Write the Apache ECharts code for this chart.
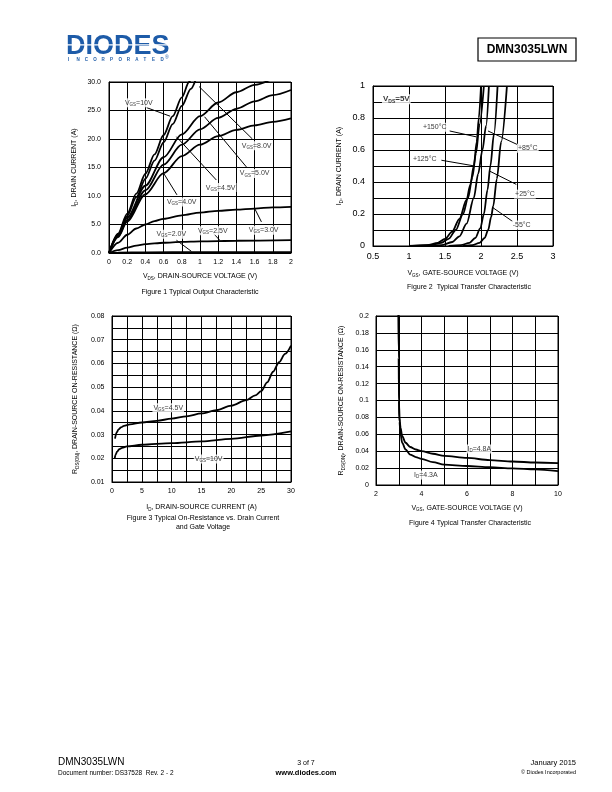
<!DOCTYPE html>
<html><head><meta charset="utf-8">
<script src="https://cdn.jsdelivr.net/npm/echarts@6/dist/echarts.min.js"></script>
<style>html,body{margin:0;padding:0;background:#fff}#c{width:612px;height:792px}</style>
</head><body><div id="c"></div>
<script>
// ---------- Figure 1: Typical Output Characteristic (VDS [V], ID [A]) ----------
const f1_vgs10 = [[0,0],[0.1,3.4],[0.2,6.9],[0.3,10.4],[0.4,13.9],[0.5,17.3],[0.6,20.7],[0.7,24.0],[0.8,27.3],[0.88,30],[0.92,31.2]];
const f1_vgs8  = [[0,0],[0.1,3.2],[0.2,6.5],[0.3,9.8],[0.4,13.0],[0.5,16.2],[0.6,19.4],[0.7,22.6],[0.8,25.8],[0.9,28.8],[0.95,30.3]];
const f1_vgs5  = [[0,0],[0.1,3.1],[0.2,6.2],[0.4,11.8],[0.6,16.8],[0.8,20.8],[1.0,24.0],[1.2,26.4],[1.4,28.2],[1.6,29.5],[1.8,30.6]];
const f1_vgs45 = [[0,0],[0.1,2.9],[0.2,5.8],[0.4,11.0],[0.6,15.5],[0.8,19.0],[1.0,21.7],[1.2,23.7],[1.4,25.3],[1.6,26.6],[1.8,27.7],[2.0,28.6]];
const f1_vgs4  = [[0,0],[0.1,2.8],[0.2,5.5],[0.4,10.3],[0.6,14.0],[0.8,17.0],[1.0,19.0],[1.2,20.5],[1.4,21.6],[1.6,22.4],[1.8,23.0],[2.0,23.6]];
const f1_vgs3  = [[0,0],[0.1,1.8],[0.2,3.2],[0.3,4.3],[0.4,5.0],[0.5,5.6],[0.6,6.0],[0.8,6.6],[1.0,7.1],[1.2,7.4],[1.4,7.6],[1.6,7.8],[1.8,8.0],[2.0,8.1]];
const f1_vgs25 = [[0,0],[0.1,0.5],[0.2,0.95],[0.3,1.3],[0.4,1.55],[0.6,1.8],[0.8,1.95],[1.0,2.05],[1.4,2.15],[2.0,2.25]];
const f1_vgs2  = [[0,0],[0.1,0.08],[0.4,0.12],[1.0,0.14],[2.0,0.15]];

// ---------- Figure 2: Typical Transfer Characteristic (VGS [V], ID [A]) ----------
const f2_t150 = [[1.0,0],[1.25,0.005],[1.4,0.02],[1.5,0.045],[1.6,0.09],[1.7,0.17],[1.8,0.29],[1.85,0.38],[1.9,0.5],[1.94,0.65],[1.97,0.8],[2.0,1.0]];
const f2_t125 = [[1.05,0],[1.3,0.005],[1.45,0.02],[1.55,0.045],[1.65,0.1],[1.75,0.2],[1.82,0.3],[1.88,0.43],[1.93,0.58],[1.98,0.76],[2.04,1.0]];
const f2_t85  = [[1.2,0],[1.45,0.005],[1.6,0.025],[1.7,0.06],[1.8,0.14],[1.9,0.3],[1.96,0.45],[2.02,0.6],[2.07,0.75],[2.11,1.0]];
const f2_t25  = [[1.55,0],[1.72,0.005],[1.84,0.02],[1.92,0.05],[1.99,0.11],[2.04,0.2],[2.09,0.35],[2.13,0.5],[2.18,0.7],[2.23,1.0]];
const f2_tm55 = [[1.75,0],[1.88,0.005],[1.98,0.02],[2.05,0.05],[2.1,0.1],[2.14,0.18],[2.17,0.25],[2.22,0.42],[2.28,0.65],[2.36,1.0]];

// ---------- Figure 3: On-Resistance vs Drain Current (ID [A], RDS [ohm]) ----------
const f3_vgs45 = [[0.5,0.0283],[0.8,0.031],[1.1,0.0322],[1.5,0.033],[2,0.0337],[3,0.0343],[5,0.0351],[7.5,0.0358],[10,0.0367],[12.5,0.0377],[15,0.0389],[17.5,0.0403],[20,0.0422],[22.5,0.0445],[24,0.0465],[25,0.0483],[26,0.052],[27,0.0565],[28,0.0605],[29,0.064],[30,0.0675]];
const f3_vgs10 = [[0.45,0.0199],[0.6,0.0215],[0.85,0.0228],[1.2,0.0238],[1.7,0.0244],[2.5,0.025],[5,0.0257],[10,0.0264],[15,0.0271],[20,0.0282],[25,0.0296],[30,0.0313]];

// ---------- Figure 4: RDS(ON) vs VGS (VGS [V], RDS [ohm]) ----------
const f4_id48 = [[2.99,0.21],[3.0,0.15],[3.01,0.1],[3.03,0.08],[3.08,0.068],[3.15,0.058],[3.3,0.05],[3.5,0.045],[3.75,0.042],[4,0.040],[4.5,0.037],[5,0.0345],[6,0.032],[7,0.0295],[8,0.0278],[9,0.0266],[10,0.026]];
const f4_id43 = [[2.99,0.21],[3.0,0.15],[3.01,0.1],[3.03,0.075],[3.08,0.06],[3.15,0.05],[3.3,0.042],[3.5,0.036],[3.75,0.033],[4,0.031],[4.5,0.027],[5,0.024],[6,0.0225],[7,0.021],[8,0.0197],[9,0.0185],[10,0.0165]];

// ---------- Annotations (data coordinates) ----------
const f1_labels = [
  {t:'{n|V}{s|GS}{n|=10V}', v:[0.327,26.35]},
  {t:'{n|V}{s|GS}{n|=8.0V}', v:[1.623,18.8]},
  {t:'{n|V}{s|GS}{n|=5.0V}', v:[1.601,13.94]},
  {t:'{n|V}{s|GS}{n|=4.5V}', v:[1.227,11.48]},
  {t:'{n|V}{s|GS}{n|=4.0V}', v:[0.799,8.93]},
  {t:'{n|V}{s|GS}{n|=3.0V}', v:[1.70,4.0]},
  {t:'{n|V}{s|GS}{n|=2.5V}', v:[1.14,3.9]},
  {t:'{n|V}{s|GS}{n|=2.0V}', v:[0.684,3.29]}
];
const f1_arrows = [[0.414,25.5,0.672,24.0],[1.576,20.0,0.99,29.2],[1.51,15.1,1.05,23.9],[1.18,12.8,0.741,20.4],[0.747,10.2,0.604,13.9],[1.675,5.46,1.601,7.8],[1.15,3.4,1.217,2.24],[0.741,2.24,0.905,0.3]];
const f2_labels = [
  {t:'{b|V}{bs|DS}{b|=5V}', v:[0.824,0.917]},
  {t:'{n|+150°C}', v:[1.357,0.742]},
  {t:'{n|+125°C}', v:[1.218,0.543]},
  {t:'{n|+85°C}', v:[2.65,0.611]},
  {t:'{n|+25°C}', v:[2.61,0.324]},
  {t:'{n|-55°C}', v:[2.565,0.131]}
];
const f2_arrows = [[1.565,0.719,1.936,0.682],[1.45,0.536,1.899,0.501],[2.524,0.63,2.097,0.719],[2.49,0.385,2.12,0.468],[2.444,0.152,2.167,0.239]];
const f3_labels = [
  {t:'{n|V}{s|GS}{n|=4.5V}', v:[9.43,0.0413]},
  {t:'{n|V}{s|GS}{n|=10V}', v:[16.2,0.0197]}
];
const f4_labels = [
  {t:'{n|I}{s|D}{n|=4.8A}', v:[6.54,0.0426]},
  {t:'{n|I}{s|D}{n|=4.3A}', v:[4.19,0.0118]}
];

const FONT = '"Liberation Sans", Arial, sans-serif';
const rich = {
  n: {fontSize: 7, fontFamily: FONT, color: '#000', lineHeight: 9},
  s: {fontSize: 4.5, fontFamily: FONT, color: '#000', lineHeight: 5, verticalAlign: 'bottom'},
  b: {fontSize: 8, fontFamily: FONT, fontWeight: 'bold', color: '#000', lineHeight: 10},
  bs: {fontSize: 5, fontFamily: FONT, fontWeight: 'bold', color: '#000', lineHeight: 5, verticalAlign: 'bottom'}
};

function xAx(g, min, max, interval, fmt, name, gap, fs) {
  return {gridIndex: g, type: 'value', min, max, interval,
    axisLine: {show: true, onZero: false, lineStyle: {color: '#000', width: 1}},
    axisTick: {show: false},
    splitLine: {show: true, lineStyle: {color: '#000', width: 1}},
    axisLabel: {fontSize: fs || 7, fontFamily: FONT, color: '#000', margin: 6, formatter: fmt},
    name, nameLocation: 'middle', nameGap: gap, nameTextStyle: {rich}
  };
}
function yAx(g, min, max, interval, fmt, name, gap, fs, margin) {
  return {gridIndex: g, type: 'value', min, max, interval,
    axisLine: {show: true, onZero: false, lineStyle: {color: '#000', width: 1}},
    axisTick: {show: false},
    splitLine: {show: true, lineStyle: {color: '#000', width: 1}},
    axisLabel: {fontSize: fs || 7, fontFamily: FONT, color: '#000', margin: margin || 8, formatter: fmt},
    name, nameLocation: 'middle', nameGap: gap, nameRotate: 90, nameTextStyle: {rich}
  };
}
function curve(i, data) {
  return {type: 'line', xAxisIndex: i, yAxisIndex: i, data, showSymbol: false, symbol: 'none',
    smooth: 0.3, smoothMonotone: 'x', clip: true, z: 3,
    lineStyle: {color: '#000', width: 1.8}};
}
function arrows(i, list) {
  return {type: 'line', xAxisIndex: i, yAxisIndex: i, data: [], z: 4,
    markLine: {silent: true, symbol: ['none', 'arrow'], symbolSize: [0, 6], animation: false,
      lineStyle: {color: '#000', width: 1, type: 'solid'}, label: {show: false},
      data: list.map(a => [{coord: [a[0], a[1]]}, {coord: [a[2], a[3]]}])}};
}
function labels(i, list) {
  return {type: 'scatter', xAxisIndex: i, yAxisIndex: i, z: 10, symbolSize: 1,
    itemStyle: {color: 'rgba(0,0,0,0)'},
    data: list.map(l => ({value: l.v, t: l.t})),
    label: {show: true, position: 'inside', formatter: p => p.data.t,
      backgroundColor: '#fff', padding: [0, 1], rich}};
}

const fmt1 = v => String(Math.round(v * 10) / 10);
const option = {
  animation: false,
  backgroundColor: '#fff',
  grid: [
    {left: 109, top: 82, width: 182, height: 171, show: true, borderColor: '#000', borderWidth: 1},
    {left: 373, top: 86, width: 180, height: 160, show: true, borderColor: '#000', borderWidth: 1},
    {left: 112, top: 316, width: 179, height: 166, show: true, borderColor: '#000', borderWidth: 1},
    {left: 376, top: 316, width: 182, height: 169, show: true, borderColor: '#000', borderWidth: 1}
  ],
  xAxis: [
    xAx(0, 0, 2, 0.2, fmt1, '{n|V}{s|DS}{n|, DRAIN-SOURCE VOLTAGE (V)}', 19),
    xAx(1, 0.5, 3, 0.5, v => String(v), '{n|V}{s|GS}{n|, GATE-SOURCE VOLTAGE (V)}', 23, 9),
    xAx(2, 0, 30, 2.5, v => (Math.round(v / 2.5) % 2 === 0 ? String(Math.round(v)) : ''), '{n|I}{s|D}{n|, DRAIN-SOURCE CURRENT (A)}', 21),
    xAx(3, 2, 10, 1, v => (Math.round(v) % 2 === 0 ? String(Math.round(v)) : ''), '{n|V}{s|GS}{n|, GATE-SOURCE VOLTAGE (V)}', 18.5)
  ],
  yAxis: [
    yAx(0, 0, 30, 5, v => v.toFixed(1), '{n|I}{s|D}{n|, DRAIN CURRENT (A)}', 30),
    yAx(1, 0, 1, 0.1, v => (Math.round(v * 10) % 2 === 0 ? String(parseFloat(v.toFixed(1))) : ''), '{n|I}{s|D}{n|, DRAIN CURRENT (A)}', 29, 9, 8),
    yAx(2, 0.01, 0.08, 0.005, v => (Math.round(v * 1000) % 10 === 0 ? v.toFixed(2) : ''), '{n|R}{s|DS(ON)}{n|, DRAIN-SOURCE ON-RESISTANCE (Ω)}', 32, 7, 7.5),
    yAx(3, 0, 0.2, 0.02, v => String(parseFloat(v.toFixed(2))), '{n|R}{s|DS(ON)}{n|, DRAIN-SOURCE ON-RESISTANCE (Ω)}', 30, 7, 7)
  ],
  series: [
    curve(0, f1_vgs10), curve(0, f1_vgs8), curve(0, f1_vgs5), curve(0, f1_vgs45), curve(0, f1_vgs4),
    curve(0, f1_vgs3), curve(0, f1_vgs25), curve(0, f1_vgs2),
    arrows(0, f1_arrows), labels(0, f1_labels),
    curve(1, f2_t150), curve(1, f2_t125), curve(1, f2_t85), curve(1, f2_t25), curve(1, f2_tm55),
    arrows(1, f2_arrows), labels(1, f2_labels),
    curve(2, f3_vgs45), curve(2, f3_vgs10), labels(2, f3_labels),
    curve(3, f4_id48), curve(3, f4_id43), labels(3, f4_labels)
  ],
  graphic: [
    // logo
    {type: 'text', left: 66, top: 33, style: {text: 'DIODES', font: 'bold 27px ' + FONT, fill: '#1d5ba8'}},
    {type: 'rect', shape: {x: 66, y: 44.3, width: 104, height: 1.3}, style: {fill: '#fff'}, z: 10},
    ...'INCORPORATED'.split('').map((ch, k) => ({type: 'text', x: 68 + k * 8.4, y: 57, style: {text: ch, font: 'bold 4.5px ' + FONT, fill: '#1d5ba8'}})),
    {type: 'text', x: 165, y: 55.5, style: {text: '®', font: '5px ' + FONT, fill: '#1d5ba8'}},
    // part number box
    {type: 'rect', shape: {x: 478, y: 38, width: 98, height: 23}, style: {fill: 'none', stroke: '#000', lineWidth: 1.2}},
    {type: 'text', x: 527, y: 49.5, style: {text: 'DMN3035LWN', font: 'bold 12px ' + FONT, fill: '#000', align: 'center', verticalAlign: 'middle'}},
    // captions
    {type: 'text', x: 200, y: 292, style: {text: 'Figure 1 Typical Output Characteristic', font: '7px ' + FONT, fill: '#000', align: 'center', verticalAlign: 'middle'}},
    {type: 'text', x: 469, y: 287, style: {text: 'Figure 2  Typical Transfer Characteristic', font: '7px ' + FONT, fill: '#000', align: 'center', verticalAlign: 'middle'}},
    {type: 'text', x: 203, y: 518, style: {text: 'Figure 3 Typical On-Resistance vs. Drain Current', font: '7px ' + FONT, fill: '#000', align: 'center', verticalAlign: 'middle'}},
    {type: 'text', x: 203, y: 527, style: {text: 'and Gate Voltage', font: '7px ' + FONT, fill: '#000', align: 'center', verticalAlign: 'middle'}},
    {type: 'text', x: 470, y: 523, style: {text: 'Figure 4 Typical Transfer Characteristic', font: '7px ' + FONT, fill: '#000', align: 'center', verticalAlign: 'middle'}},
    // footer
    {type: 'text', x: 58, y: 762, style: {text: 'DMN3035LWN', font: '10px ' + FONT, fill: '#000', verticalAlign: 'middle'}},
    {type: 'text', x: 58, y: 773, style: {text: 'Document number: DS37528  Rev. 2 - 2', font: '6.5px ' + FONT, fill: '#000', verticalAlign: 'middle'}},
    {type: 'text', x: 306, y: 763, style: {text: '3 of 7', font: '7px ' + FONT, fill: '#000', align: 'center', verticalAlign: 'middle'}},
    {type: 'text', x: 306, y: 773, style: {text: 'www.diodes.com', font: 'bold 7.5px ' + FONT, fill: '#000', align: 'center', verticalAlign: 'middle'}},
    {type: 'text', x: 576, y: 763, style: {text: 'January 2015', font: '7.5px ' + FONT, fill: '#000', align: 'right', verticalAlign: 'middle'}},
    {type: 'text', x: 576, y: 772, style: {text: '© Diodes Incorporated', font: '5.5px ' + FONT, fill: '#000', align: 'right', verticalAlign: 'middle'}}
  ]
};
const chart = echarts.init(document.getElementById('c'), null, {renderer: 'canvas'});
chart.setOption(option);
</script></body></html>
